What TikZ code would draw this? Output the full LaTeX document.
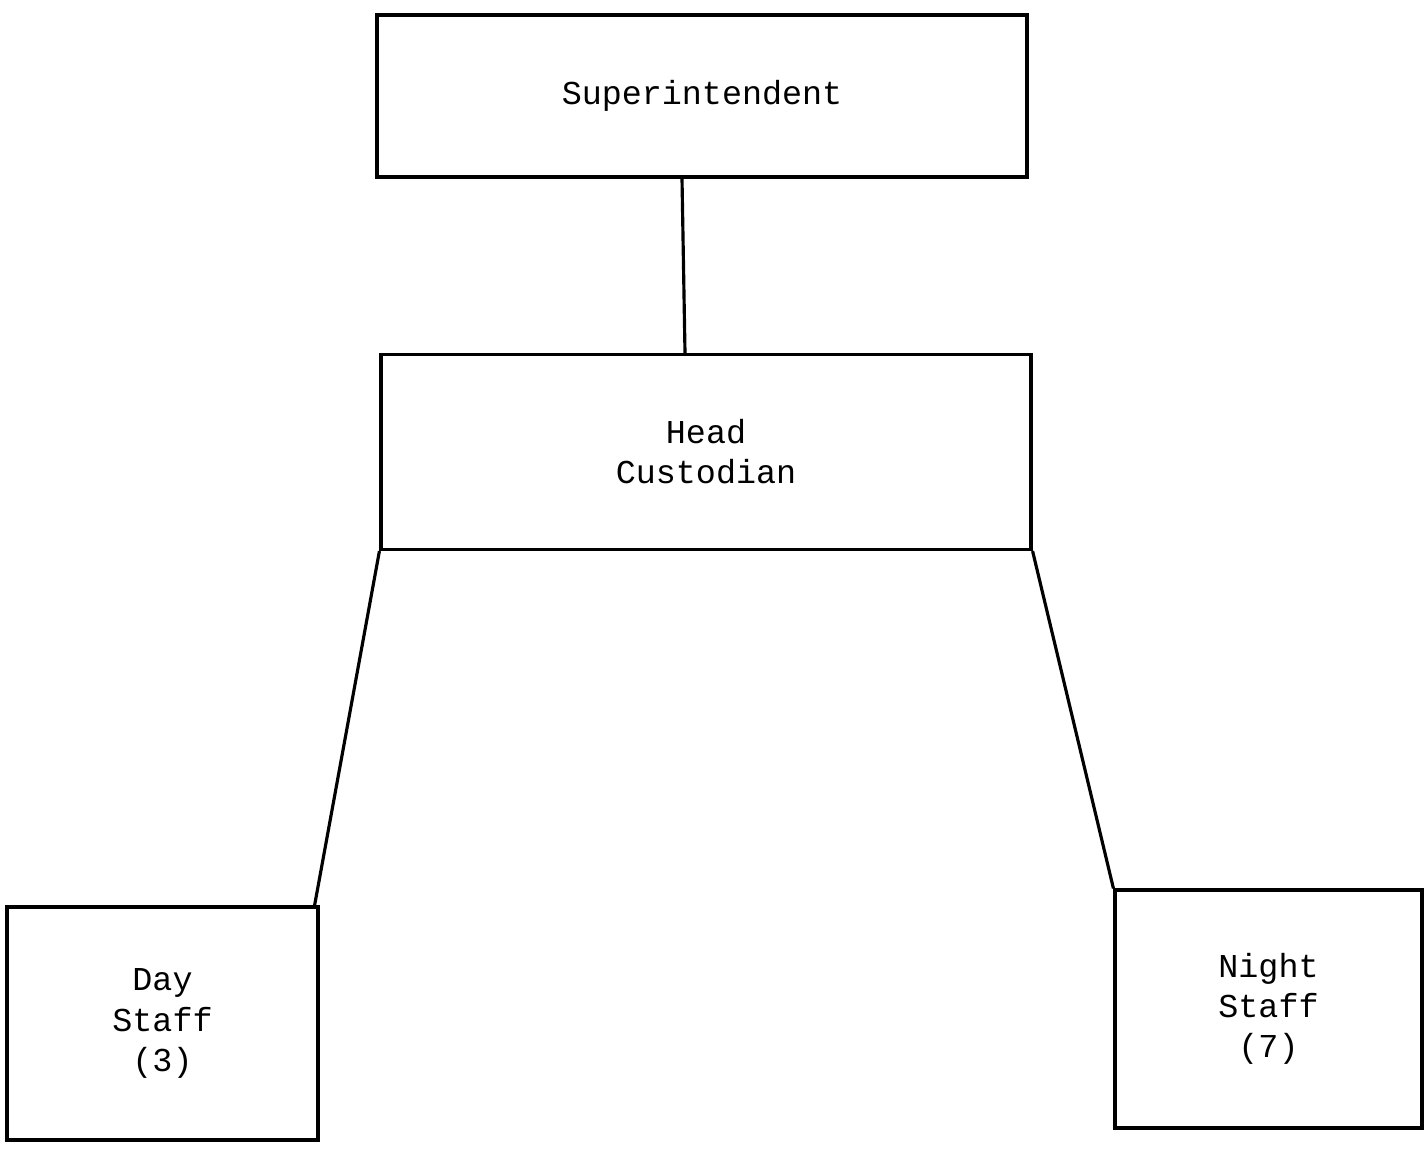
\documentclass[tikz,border=0pt]{standalone}
\usepackage{fontspec}
\setmonofont{Liberation Mono}
\begin{document}
\begin{tikzpicture}[scale=1,
  unitbox/.style={draw,line width=0.9pt,rectangle,align=center,
    font=\ttfamily\fontsize{9.5}{11.4}\selectfont},
  link/.style={line width=0.9pt}]
  \useasboundingbox (0,0) rectangle (14.26,11.55);
  % the boxes
  \node[unitbox,minimum width=6.5cm,minimum height=1.62cm] (super) at (7.02,10.59) {Superintendent};
  \node[unitbox,minimum width=6.5cm,minimum height=1.95cm] (head) at (7.06,7.03) {Head\\Custodian};
  \node[unitbox,minimum width=3.11cm,minimum height=2.33cm] (day) at (1.625,1.315) {Day\\Staff\\(3)};
  \node[unitbox,minimum width=3.07cm,minimum height=2.38cm] (night) at (12.685,1.46) {Night\\Staff\\(7)};
  % the lines between them
  \draw[link] ([xshift=-0.2cm]super.south) -- ([xshift=-0.21cm]head.north);
  \draw[link] (head.south west) -- ([xshift=-0.05cm]day.north east);
  \draw[link] (head.south east) -- (night.north west);
\end{tikzpicture}
\end{document}
